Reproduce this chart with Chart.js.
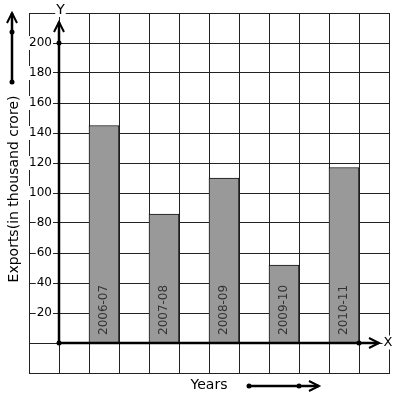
<!DOCTYPE html>
<html>
<head>
<meta charset="utf-8">
<script src="https://cdn.jsdelivr.net/npm/chart.js@4.4.1/dist/chart.umd.min.js"></script>
<style>
  html, body { margin: 0; padding: 0; background: #fff; }
  canvas { display: block; }
</style>
</head>
<body>
<canvas id="exportsChart" width="397" height="399"></canvas>
<script>
// Data
const years = ["2006-07", "2007-08", "2008-09", "2009-10", "2010-11"];
const exportValues = [145, 86, 110, 52, 117];
const yTicks = [20, 40, 60, 80, 100, 120, 140, 160, 180, 200];
const yearSlots = [2, 4, 6, 8, 10];   // columns of the 12-column grid that hold bars
const slotCount = 12;

const FONT = "'DejaVu Sans', sans-serif";

// 12 grid columns, bars only in some of them
const slotLabels = [];
const slotValues = [];
for (let i = 0; i < slotCount; i++) {
  const k = yearSlots.indexOf(i);
  slotLabels.push(k >= 0 ? years[k] : "");
  slotValues.push(k >= 0 ? exportValues[k] : null);
}

function dot(ctx, x, y) {
  ctx.beginPath();
  ctx.arc(x, y, 2.5, 0, Math.PI * 2);
  ctx.fill();
}

function chevron(ctx, tipX, tipY, dir) {
  // open arrow head; dir = "up" or "right"
  ctx.beginPath();
  if (dir === "up") {
    ctx.moveTo(tipX - 5, tipY + 10);
    ctx.lineTo(tipX, tipY);
    ctx.lineTo(tipX + 5, tipY + 10);
  } else {
    ctx.moveTo(tipX - 10, tipY - 5);
    ctx.lineTo(tipX, tipY);
    ctx.lineTo(tipX - 10, tipY + 5);
  }
  ctx.stroke();
}

function textWithBack(ctx, str, x, y, align) {
  ctx.textAlign = align;
  ctx.textBaseline = "middle";
  const w = ctx.measureText(str).width;
  const left = align === "right" ? x - w : align === "center" ? x - w / 2 : x;
  ctx.fillStyle = "#fff";
  ctx.fillRect(left - 1, y - 7, w + 2, 14);
  ctx.fillStyle = "#000";
  ctx.fillText(str, x, y);
}

const decorations = {
  id: "decorations",
  afterDatasetsDraw(chart) {
    const ctx = chart.ctx;
    const xs = chart.scales.x;
    const ys = chart.scales.y;
    const half = (xs.getPixelForValue(1) - xs.getPixelForValue(0)) / 2;
    const axisX = xs.getPixelForValue(0) + half;
    const axisY = ys.getPixelForValue(0);
    const area = chart.chartArea;

    ctx.save();

    // labels inside the bars
    ctx.font = "12px " + FONT;
    ctx.fillStyle = "#333";
    ctx.textAlign = "left";
    ctx.textBaseline = "middle";
    yearSlots.forEach((slot, i) => {
      ctx.save();
      ctx.translate(xs.getPixelForValue(slot), axisY - 8);
      ctx.rotate(-Math.PI / 2);
      ctx.fillText(years[i], 0, 0);
      ctx.restore();
    });

    // y tick labels, on white backs inside the first column
    ctx.font = "12px " + FONT;
    yTicks.forEach(v => {
      textWithBack(ctx, String(v), axisX - 7, ys.getPixelForValue(v), "right");
    });

    // thick axes
    ctx.strokeStyle = "#000";
    ctx.fillStyle = "#000";
    ctx.lineWidth = 2.5;
    ctx.beginPath();
    ctx.moveTo(axisX, axisY);
    ctx.lineTo(axisX, area.top + 9);
    ctx.moveTo(axisX, axisY);
    ctx.lineTo(area.right - 10, axisY);
    ctx.stroke();
    ctx.lineWidth = 2;
    chevron(ctx, axisX, area.top + 9, "up");
    chevron(ctx, area.right - 10, axisY, "right");
    dot(ctx, axisX, axisY);
    dot(ctx, axisX, ys.getPixelForValue(200));
    dot(ctx, xs.getPixelForValue(10) + half, axisY);

    // axis letters
    ctx.font = "14px " + FONT;
    textWithBack(ctx, "Y", axisX + 1.5, area.top - 3, "center");
    ctx.font = "13px " + FONT;
    textWithBack(ctx, "X", area.right - 1, axisY - 0.5, "center");

    // axis titles
    ctx.font = "14px " + FONT;
    ctx.fillStyle = "#000";
    ctx.textAlign = "center";
    ctx.textBaseline = "middle";
    ctx.save();
    ctx.translate(14, 189);
    ctx.rotate(-Math.PI / 2);
    ctx.fillText("Exports(in thousand crore)", 0, 0);
    ctx.restore();
    ctx.fillText("Years", 209, 385);

    // direction arrows beside the titles
    ctx.lineWidth = 2.5;
    ctx.beginPath();
    ctx.moveTo(12, 82);
    ctx.lineTo(12, 13);
    ctx.moveTo(249, 386);
    ctx.lineTo(319, 386);
    ctx.stroke();
    ctx.lineWidth = 2;
    chevron(ctx, 12, 13, "up");
    chevron(ctx, 319, 386, "right");
    dot(ctx, 12, 32);
    dot(ctx, 12, 82);
    dot(ctx, 249, 386);
    dot(ctx, 299, 386);

    ctx.restore();
  }
};

new Chart(document.getElementById("exportsChart"), {
  type: "bar",
  data: {
    labels: slotLabels,
    datasets: [{
      data: slotValues,
      backgroundColor: "#999999",
      borderColor: "#111",
      borderWidth: 1,
      barPercentage: 1,
      categoryPercentage: 1
    }]
  },
  options: {
    responsive: false,
    devicePixelRatio: 1,
    animation: false,
    layout: { padding: { left: 29, top: 13, right: 8, bottom: 26 } },
    plugins: {
      legend: { display: false },
      tooltip: { enabled: false }
    },
    scales: {
      x: {
        offset: true,
        grid: { offset: true, color: "#222", lineWidth: 1, drawTicks: false },
        border: { display: true, color: "#222" },
        ticks: { display: false }
      },
      y: {
        min: -20,
        max: 220,
        grid: { color: "#222", lineWidth: 1, drawTicks: false },
        border: { display: true, color: "#222" },
        ticks: { display: false, stepSize: 20 }
      }
    }
  },
  plugins: [decorations]
});
</script>
</body>
</html>
